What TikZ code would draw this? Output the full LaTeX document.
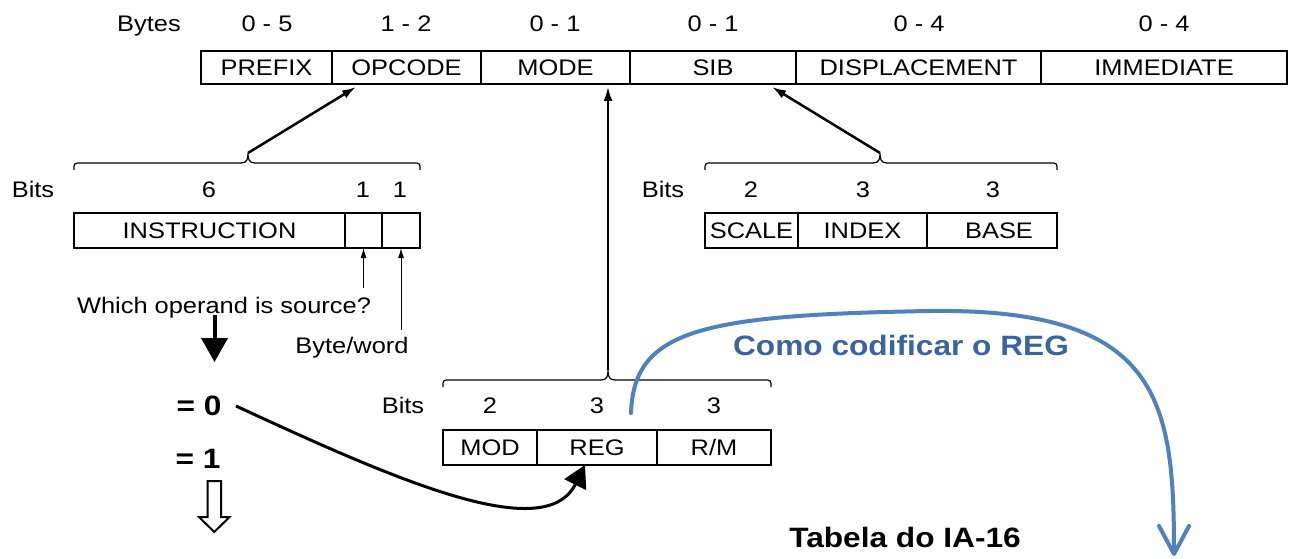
\documentclass[tikz,border=0pt]{standalone}
\usepackage{fontspec}
\setmainfont{Liberation Sans}[FakeStretch=1.13]
\usetikzlibrary{arrows.meta,calc}
\definecolor{bline}{RGB}{79,129,189}
\definecolor{btext}{RGB}{58,100,160}
\newcommand\mybrace[4]{\draw[thinline] ({#1},{#4+7}) .. controls ({#1},{#4}) .. ({#1+7},{#4}) -- ({#3-7},{#4}) .. controls ({#3-1},{#4}) and ({#3},{#4-4}) .. ({#3},{#4-10}) .. controls ({#3},{#4-4}) and ({#3+1},{#4}) .. ({#3+7},{#4}) -- ({#2-7},{#4}) .. controls ({#2},{#4}) .. ({#2},{#4+7});}
\begin{document}
\begin{tikzpicture}[x=1pt,y=-1pt,
  txt/.style={font=\fontsize{22.5}{26}\selectfont, inner sep=0pt, anchor=base},
  boldtxt/.style={font=\fontsize{28}{32}\selectfont\bfseries, inner sep=0pt, anchor=base},
  cell/.style={draw, line width=1.8pt, inner sep=0pt, outer sep=0pt, anchor=west,
    font=\fontsize{22.5}{26}\selectfont, text height=16pt, text depth=0pt},
  thinline/.style={line width=1.2pt},
  arr/.style={line width=2.5pt, -{Latex[length=14pt,width=9pt]}},
  smallarr/.style={line width=1pt, -{Latex[length=10pt,width=6pt]}}]
\useasboundingbox (0,0) rectangle (1295,559);

% top row
\node[txt] (bytes) at (149,32) {Bytes};
\node[txt] (n1) at (267,32) {0 - 5};
\node[txt] (n2) at (406,32) {1 - 2};
\node[txt] (n3) at (555,32) {0 - 1};
\node[txt] (n4) at (713,32) {0 - 1};
\node[txt] (n5) at (919,32) {0 - 4};
\node[txt] (n6) at (1164,32) {0 - 4};
\node[cell,minimum width=131pt,minimum height=33pt] (prefix) at (201,67.5) {PREFIX};
\node[cell,minimum width=149pt,minimum height=33pt] (opcode) at (prefix.east) {OPCODE};
\node[cell,minimum width=149pt,minimum height=33pt] (mode) at (opcode.east) {MODE};
\node[cell,minimum width=166pt,minimum height=33pt] (sib) at (mode.east) {SIB};
\node[cell,minimum width=245pt,minimum height=33pt] (disp) at (sib.east) {DISPLACEMENT};
\node[cell,minimum width=246pt,minimum height=33pt] (imm) at (disp.east) {IMMEDIATE};

% opcode bits
\node[txt] (bitsA) at (33,197) {Bits};
\node[txt] (a6) at (209,197) {6};
\node[txt] (a1) at (363,197) {1};
\node[txt] (a2) at (400,197) {1};
\node[cell,minimum width=271pt,minimum height=35pt] (instr) at (74,230.5) {INSTRUCTION};
\node[cell,minimum width=37pt,minimum height=35pt] (bit1) at (instr.east) {};
\node[cell,minimum width=38pt,minimum height=35pt] (bit2) at (bit1.east) {};
\mybrace{74}{420}{248}{163}
\coordinate (b1) at (248,153);
\draw[arr] (b1) -- ($(opcode.south west)+(24,3)$);
\draw[smallarr] ($(bit1.south)+(0,40)$) -- (bit1.south);
\draw[smallarr] ($(bit2.south)+(0,82)$) -- (bit2.south);
\node[txt] (which) at (224,313) {Which operand is source?};
\node[txt] (bw) at (352,353) {Byte/word};
\coordinate (t0) at (214.5,315);
\coordinate (t1) at (214.5,362);
\draw[line width=4pt, -{Triangle[length=24pt,width=26pt]}] (t0) -- (t1);
\node[boldtxt] (eq0) at (199,415) {= 0};
\node[boldtxt] (eq1) at (198,468) {= 1};
\draw[line width=2pt, fill=white, line join=miter] (207.5,481) -- (221,481) -- (221,517) -- (229.5,517) -- (214.25,532) -- (199,517) -- (207.5,517) -- cycle;

% SIB bits
\node[txt] (bitsB) at (663,197) {Bits};
\node[txt] (s2) at (751,197) {2};
\node[txt] (s3) at (863,197) {3};
\node[txt] (s4) at (993,197) {3};
\node[cell,minimum width=93pt,minimum height=35pt] (scale) at (705,230.5) {SCALE};
\node[cell,minimum width=129pt,minimum height=35pt] (index) at (scale.east) {INDEX};
\node[cell,minimum width=130pt,minimum height=35pt] (base) at (index.east) {\hspace*{14pt}BASE};
\mybrace{705}{1057}{880}{163}
\coordinate (b2) at (880,153);
\draw[arr] (b2) -- ($(sib.south west)+(142,3)$);

% MOD bits
\node[txt] (bitsC) at (403,413) {Bits};
\node[txt] (m2) at (490,413) {2};
\node[txt] (m3) at (597,413) {3};
\node[txt] (m4) at (714,413) {3};
\node[cell,minimum width=94pt,minimum height=35pt] (mod) at (443,447.5) {MOD};
\node[cell,minimum width=120pt,minimum height=35pt] (reg) at (mod.east) {REG};
\node[cell,minimum width=114pt,minimum height=35pt] (rm) at (reg.east) {R/M};
\mybrace{443}{771}{608}{380}
\coordinate (b3) at (608,370);
\draw[arr, line width=2pt] (b3) -- ($(mode.south west)+(127,3)$);

% black curve
\coordinate (c0) at (236,406);
\draw[line width=3pt, -{Triangle[length=22pt,width=24pt]}] (c0) .. controls (400,482) and (545,545) .. ($(reg.south)+(-12,0)$);

% blue curve
\coordinate (u0) at (631,413);
\coordinate (u1) at (1174,556);
\draw[bline, line width=4pt, line cap=round, -{Straight Barb[length=28pt,width=30pt,round]}] (u0) .. controls (634,330) and (700,315) .. (930,311) .. controls (1160,308) and (1174,400) .. (u1);
\node[boldtxt, text=btext] (como) at (901,355) {Como codificar o REG};
\node[boldtxt] (tabela) at (905,547) {Tabela do IA-16};
\end{tikzpicture}
\end{document}
